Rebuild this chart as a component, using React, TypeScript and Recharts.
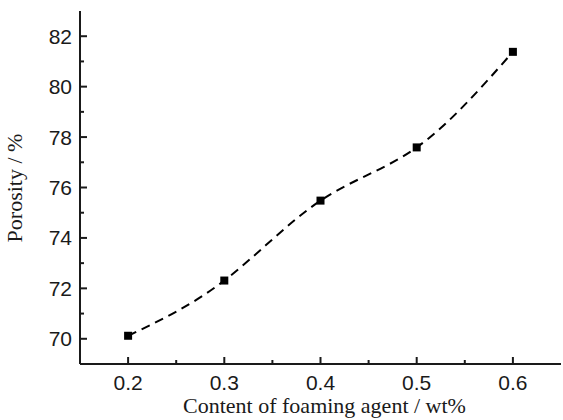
import { LineChart, Line, XAxis, YAxis } from "recharts";

const contents = [0.2, 0.3, 0.4, 0.5, 0.6];
const porosity = [70.12, 72.31, 75.48, 77.59, 81.38];

const xTicks = [0.2, 0.25, 0.3, 0.35, 0.4, 0.45, 0.5, 0.55, 0.6];
const yTicks = [70, 71, 72, 73, 74, 75, 76, 77, 78, 79, 80, 81, 82];

const xTitle = "Content of foaming agent / wt%";
const yTitle = "Porosity / %";

const data = contents.map((c, i) => ({ content: c, porosity: porosity[i] }));

const sans = "'Liberation Sans', Arial, sans-serif";
const serif = "'Liberation Serif', 'Times New Roman', serif";
const ink = "#1a1a1a";

function XTick(props: any) {
  const { x, y, payload } = props;
  const major = Math.round(payload.value * 100) % 10 === 0;
  return (
    <g>
      <line x1={x} x2={x} y1={y} y2={y - (major ? 7 : 4)} stroke={ink} strokeWidth={2} />
      {major && (
        <text x={x} y={y + 11.5} dy="0.71em" textAnchor="middle" fontSize={21} fontFamily={sans} fill={ink}>
          {payload.value.toFixed(1)}
        </text>
      )}
    </g>
  );
}

function YTick(props: any) {
  const { x, y, payload } = props;
  const major = payload.value % 2 === 0;
  return (
    <g>
      <line x1={x} x2={x + (major ? 7 : 4)} y1={y} y2={y} stroke={ink} strokeWidth={2} />
      {major && (
        <text x={x - 8} y={y} dy="0.355em" textAnchor="end" fontSize={21} fontFamily={sans} fill={ink}>
          {payload.value}
        </text>
      )}
    </g>
  );
}

function XTitle(props: any) {
  const vb = props.viewBox || { x: 80, y: 364, width: 482 };
  return (
    <text x={vb.x + vb.width / 2 + 4} y={vb.y + 48.5} textAnchor="middle" fontSize={22} fontFamily={serif} fill={ink}>
      {xTitle}
    </text>
  );
}

function YTitle() {
  return (
    <text x={22} y={188} transform="rotate(-90 22 188)" textAnchor="middle" fontSize={22} fontFamily={serif} fill={ink}>
      {yTitle}
    </text>
  );
}

function SquareDot(props: any) {
  const { cx, cy, index } = props;
  return <rect key={"d" + index} x={cx - 4} y={cy - 4} width={8} height={8} fill="#000" />;
}

export default function App() {
  return (
    <div style={{ position: "absolute", left: 0, top: 0, background: "#fff" }}>
      <LineChart width={563} height={420} data={data} margin={{ top: 11, right: 2, bottom: 0, left: 0 }}>
        <XAxis
          dataKey="content"
          type="number"
          domain={[0.15, 0.65]}
          ticks={xTicks}
          interval={0}
          height={56}
          tickSize={0}
          tickMargin={0}
          tickLine={false}
          axisLine={{ stroke: ink, strokeWidth: 2 }}
          tick={(p: any) => <XTick {...p} />}
          label={<XTitle />}
        />
        <XAxis
          xAxisId="top"
          dataKey="content"
          type="number"
          orientation="top"
          domain={[0.15, 0.65]}
          height={0}
          tick={false}
          tickLine={false}
          axisLine={{ stroke: ink, strokeWidth: 2 }}
        />
        <YAxis
          type="number"
          domain={[69, 83]}
          ticks={yTicks}
          interval={0}
          width={80}
          tickSize={0}
          tickMargin={0}
          tickLine={false}
          axisLine={{ stroke: ink, strokeWidth: 2 }}
          tick={(p: any) => <YTick {...p} />}
          label={<YTitle />}
        />
        <YAxis
          yAxisId="right"
          type="number"
          orientation="right"
          domain={[69, 83]}
          width={0}
          tick={false}
          tickLine={false}
          axisLine={{ stroke: "#999", strokeWidth: 1 }}
        />
        <Line
          type="natural"
          dataKey="porosity"
          stroke="#000"
          strokeWidth={2}
          strokeDasharray="9 6"
          dot={SquareDot}
          activeDot={false}
          isAnimationActive={false}
        />
      </LineChart>
    </div>
  );
}
